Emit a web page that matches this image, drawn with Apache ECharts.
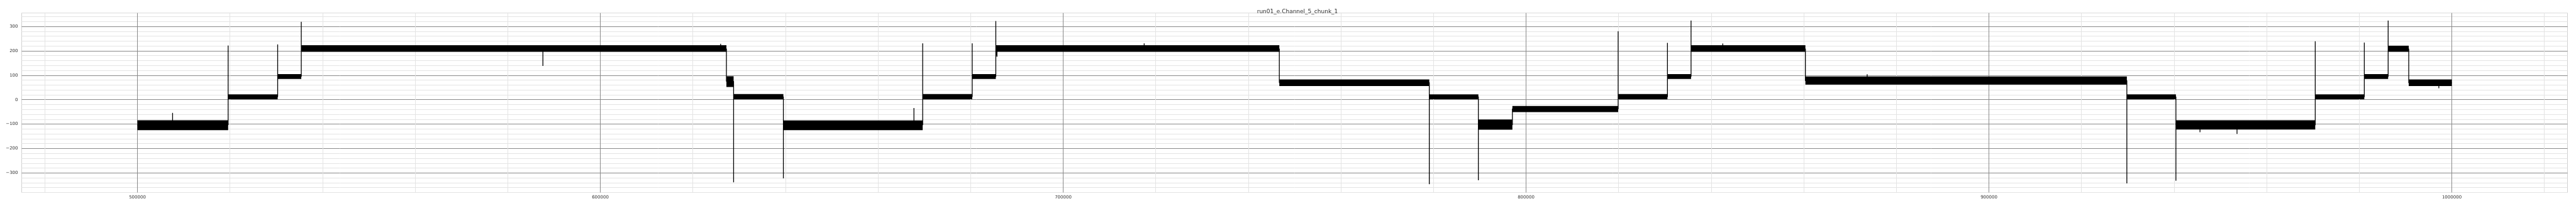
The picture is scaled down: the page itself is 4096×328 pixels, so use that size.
<!DOCTYPE html>
<html><head><meta charset="utf-8">
<script src="https://cdn.jsdelivr.net/npm/echarts@6/dist/echarts.min.js"></script>
<style>html,body{margin:0;padding:0;background:#fff}#c{width:4096px;height:328px}</style>
</head><body><div id="c"></div>
<script>
const chartTitle = 'run01_e.Channel_5_chunk_1';
const xTickLabels = [500000, 600000, 700000, 800000, 900000, 1000000];
const yTickLabels = [-300, -200, -100, 0, 100, 200, 300];

// noisy plateaus: extent in x, and the band of the noise in y
const bandStart = [500000, 519600, 530300, 535400, 627250, 628800, 639550, 669650, 680350, 685450, 746700, 779100, 789700, 797050, 819900, 830550, 835650, 860350, 929800, 940400, 970500, 981100, 986250, 990700];
const bandEnd   = [519600, 530300, 535400, 627250, 628800, 639550, 669650, 680350, 685450, 746700, 779100, 789700, 797050, 819900, 830550, 835650, 860350, 929800, 940400, 970500, 981100, 986250, 990700, 1000000];
const bandLow   = [-125, 2, 85, 196, 52, 2, -125, 2, 85, 196, 56, 2, -123, -51, 2, 85, 196, 62, 2, -122, 2, 85, 196, 56];
const bandHigh  = [-84, 22, 105, 223, 96, 23, -85, 23, 105, 223, 83, 22, -81, -26, 23, 105, 223, 95, 22, -84, 22, 105, 221, 83];

// trace through steps, transitions and spikes
const traceX = [500000, 507600, 507600, 507600, 519600, 519600, 519600, 530300, 530300, 530300, 535400, 535400, 535400,
  587600, 587600, 587600, 626000, 626000, 626000, 627250, 627250, 628800, 628800, 628800, 639550, 639550, 639550,
  667760, 667760, 667760, 669650, 669650, 669650, 680350, 680350, 680350, 685450, 685450, 685450, 685700, 685700, 685700,
  717500, 717500, 717500, 746700, 746700, 779100, 779100, 779100, 789700, 789700, 789700, 797050, 797050,
  819900, 819900, 819900, 830550, 830550, 830550, 835650, 835650, 835650, 842500, 842500, 842500, 860350, 860350,
  873700, 873700, 873700, 929800, 929800, 929800, 940400, 940400, 940400, 945600, 945600, 945600, 953600, 953600, 953600,
  970500, 970500, 970500, 981100, 981100, 981100, 986250, 986250, 986250, 990700, 990700, 997200, 997200, 997200, 1000000];
const traceY = [-103, -103, -54, -103, -103, 222, 12, 12, 226, 95, 95, 319, 208,
  208, 138, 208, 208, 229, 208, 208, 75, 75, -338, 12, 12, -322, -103,
  -103, -34, -103, -103, 231, 12, 12, 231, 95, 95, 322, 208, 208, 176, 208,
  208, 231, 208, 208, 70, 70, -346, 12, 12, -330, -103, -103, -38,
  -38, 280, 12, 12, 233, 95, 95, 324, 208, 208, 230, 208, 208, 78,
  78, 104, 78, 78, -343, 12, 12, -332, -103, -103, -133, -103, -103, -140, -103,
  -103, 239, 12, 12, 234, 95, 95, 324, 208, 208, 69, 69, 47, 69, 69];

const MAJOR = '#8a8a8a', MINOR = '#e4e4e4', NONE = 'rgba(0,0,0,0)';
// x split lines every 5000 from 475000: index%20==5 -> multiple of 100000; index%4==1 -> multiple of 20000
const xColors = [];
for (let i = 0; i < 20; i++) xColors.push(i === 5 ? MAJOR : (i % 4 === 1 ? MINOR : NONE));
// y split lines every 20 from -380: index%5==4 -> multiple of 100
const yColors = [MINOR, MINOR, MINOR, MINOR, MAJOR];

const bandData = bandStart.map((s, i) => [s, bandEnd[i], bandLow[i], bandHigh[i]]);
const traceData = traceX.map((x, i) => [x, traceY[i]]);

const chart = echarts.init(document.getElementById('c'), null, {renderer: 'canvas'});
chart.setOption({
  animation: false,
  backgroundColor: '#ffffff',
  title: {
    text: chartTitle, left: 2058, top: 9, textAlign: 'center',
    textStyle: {fontFamily: 'DejaVu Sans', fontSize: 9, fontWeight: 'normal', color: '#333'}
  },
  grid: {left: 34.5, right: 13.5, top: 20.7, bottom: 21.5, show: true, borderColor: '#d0d0d0', borderWidth: 1, containLabel: false},
  xAxis: {
    type: 'value', min: 475000, max: 1025000, interval: 5000,
    axisLine: {show: false}, axisTick: {show: false},
    axisLabel: {
      fontFamily: 'DejaVu Sans', fontSize: 7, color: '#333', margin: 4,
      formatter: v => xTickLabels.includes(v) ? String(v) : ''
    },
    splitLine: {show: true, lineStyle: {color: xColors, width: 1}}
  },
  yAxis: {
    type: 'value', min: -380, max: 355, interval: 20,
    axisLine: {show: false}, axisTick: {show: false},
    axisLabel: {
      fontFamily: 'DejaVu Sans', fontSize: 7, color: '#333', margin: 6,
      formatter: v => yTickLabels.includes(v) ? String(v).replace('-', '\u2212') : ''
    },
    splitLine: {show: true, lineStyle: {color: yColors, width: 1}}
  },
  series: [
    {
      type: 'custom', data: bandData, encode: {x: [0, 1], y: [2, 3]}, z: 3,
      renderItem: (params, api) => {
        const p0 = api.coord([api.value(0), api.value(3)]);
        const p1 = api.coord([api.value(1), api.value(2)]);
        return {type: 'rect', shape: {x: p0[0], y: p0[1], width: p1[0] - p0[0], height: p1[1] - p0[1]}, style: {fill: '#000'}};
      }
    },
    {
      type: 'line', data: traceData, showSymbol: false, symbol: 'none', z: 4,
      lineStyle: {color: '#000', width: 1.3}
    }
  ]
});
</script>
</body></html>
